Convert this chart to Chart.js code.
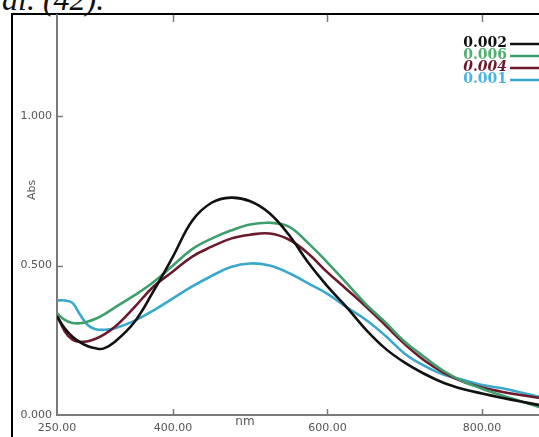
<!DOCTYPE html>
<html>
<head>
<meta charset="utf-8">
<script src="https://cdn.jsdelivr.net/npm/chart.js@4.4.1/dist/chart.umd.min.js"></script>
<style>
  html, body { margin: 0; padding: 0; background: #fff; overflow: hidden; }
  #wrap { position: relative; width: 539px; height: 437px; overflow: hidden; }
  #cite {
    position: absolute; left: 2px; top: -16px;
    font: italic 32px "Liberation Serif", serif; line-height: 30px; color: #111;
  }
  #frame {
    position: absolute; left: 11px; top: 13px; width: 560px; height: 460px;
    border-left: 2px solid #000; border-top: 2px solid #000;
  }
  #spectra { position: absolute; left: 0; top: 0; }
</style>
</head>
<body>
<div id="wrap">
  <div id="cite">al. (42).</div>
  <div id="frame"></div>
  <canvas id="spectra" width="540" height="437"></canvas>
</div>
<script>
// wavelength grid (nm) shared by all four spectra
const wavelengths = [250, 260, 270, 280, 290, 300, 310, 325, 350, 375, 400, 425, 450, 475, 500,
                     525, 550, 575, 600, 625, 650, 675, 700, 725, 750, 775, 800, 825, 850, 875];

const seriesNames = ['0.002', '0.006', '0.004', '0.001'];
const seriesColors = ['#111111', '#3f9f6c', '#6b1a2c', '#3aa8cc'];

const abs002 = [0.330, 0.290, 0.262, 0.243, 0.230, 0.223, 0.222, 0.245, 0.310, 0.415, 0.530, 0.650, 0.710, 0.727, 0.715,
                0.675, 0.603, 0.510, 0.430, 0.360, 0.285, 0.222, 0.175, 0.138, 0.108, 0.087, 0.072, 0.058, 0.045, 0.033];
const abs006 = [0.340, 0.318, 0.308, 0.307, 0.313, 0.322, 0.335, 0.360, 0.400, 0.445, 0.500, 0.555, 0.590, 0.617, 0.637,
                0.643, 0.630, 0.575, 0.510, 0.440, 0.370, 0.310, 0.245, 0.195, 0.148, 0.113, 0.088, 0.066, 0.046, 0.026];
const abs004 = [0.335, 0.280, 0.252, 0.245, 0.247, 0.255, 0.268, 0.295, 0.360, 0.430, 0.480, 0.530, 0.563, 0.590, 0.603,
                0.607, 0.587, 0.540, 0.477, 0.420, 0.362, 0.300, 0.237, 0.183, 0.142, 0.112, 0.092, 0.078, 0.067, 0.057];
const abs001 = [0.383, 0.383, 0.375, 0.335, 0.300, 0.287, 0.285, 0.290, 0.315, 0.350, 0.390, 0.430, 0.465, 0.495, 0.507,
                0.500, 0.475, 0.440, 0.405, 0.360, 0.318, 0.265, 0.205, 0.165, 0.135, 0.118, 0.100, 0.090, 0.075, 0.060];

const xTickValues = [250, 400, 600, 800];
const yTickValues = [0, 0.5, 1.0];

const seriesData = [abs002, abs006, abs004, abs001];
const drawOrder = [0, 1, 2, 3]; // black on top

const axisGrey = '#7a7a7a';
const labelGrey = '#555';
const tickFont = '"DejaVu Sans", Verdana, sans-serif';

// inner tick marks, axis titles and the concentration key
const decorations = {
  id: 'decorations',
  afterDraw(chart) {
    const ctx = chart.ctx;
    const xs = chart.scales.x, ys = chart.scales.y;
    const area = chart.chartArea;
    ctx.save();
    ctx.strokeStyle = axisGrey;
    ctx.lineWidth = 1.5;
    xTickValues.slice(1).forEach(v => {
      const px = Math.round(xs.getPixelForValue(v)) + 0.5;
      ctx.beginPath();
      ctx.moveTo(px, area.bottom); ctx.lineTo(px, area.bottom - 6);
      ctx.moveTo(px, area.top); ctx.lineTo(px, area.top + 7);
      ctx.stroke();
    });
    yTickValues.slice(1).forEach(v => {
      const py = Math.round(ys.getPixelForValue(v)) + 0.5;
      ctx.beginPath();
      ctx.moveTo(area.left, py); ctx.lineTo(area.left + 6, py);
      ctx.stroke();
    });

    // axis titles
    ctx.fillStyle = labelGrey;
    ctx.textAlign = 'center';
    ctx.textBaseline = 'middle';
    ctx.font = '12px ' + tickFont;
    ctx.fillText('nm', 245, 422);
    ctx.save();
    ctx.translate(32, 190);
    ctx.rotate(-Math.PI / 2);
    ctx.font = '11px ' + tickFont;
    ctx.fillText('Abs', 0, 0);
    ctx.restore();

    // key
    ctx.textAlign = 'right';
    ctx.textBaseline = 'middle';
    seriesNames.forEach((name, i) => {
      const y = 43 + i * 12;
      ctx.font = (i === 2 ? 'italic ' : '') + 'bold 14px "DejaVu Serif", serif';
      ctx.fillStyle = i === 3 ? '#4ab4e0' : (i === 1 ? '#4fb070' : seriesColors[i]);
      ctx.fillText(name, 507, y);
      ctx.strokeStyle = seriesColors[i];
      ctx.lineWidth = 2.5;
      ctx.beginPath();
      ctx.moveTo(510, y + 1); ctx.lineTo(540, y + 1);
      ctx.stroke();
    });
    ctx.restore();
  }
};

new Chart(document.getElementById('spectra'), {
  type: 'line',
  data: {
    datasets: seriesNames.map((name, i) => ({
      label: name,
      data: wavelengths.map((w, j) => ({ x: w, y: seriesData[i][j] })),
      borderColor: seriesColors[i],
      borderWidth: 2.6,
      pointRadius: 0,
      tension: 0.4,
      fill: false,
      order: drawOrder[i]
    }))
  },
  options: {
    responsive: false,
    animation: false,
    devicePixelRatio: 1,
    layout: { padding: { top: 15, right: 0, left: 0, bottom: 0 } },
    plugins: { legend: { display: false }, tooltip: { enabled: false } },
    scales: {
      x: {
        type: 'linear',
        min: 250,
        max: 875,
        grid: { display: false, drawTicks: false },
        border: { color: axisGrey, width: 2 },
        afterBuildTicks: scale => { scale.ticks = xTickValues.map(v => ({ value: v })); },
        afterFit: scale => { scale.height = 22; },
        ticks: {
          autoSkip: false,
          maxRotation: 0,
          padding: 7,
          color: labelGrey,
          font: { size: 11, family: tickFont },
          callback: v => v.toFixed(2)
        }
      },
      y: {
        min: 0,
        max: 1.338,
        grid: { display: false, drawTicks: false },
        border: { color: axisGrey, width: 2 },
        afterBuildTicks: scale => { scale.ticks = yTickValues.map(v => ({ value: v })); },
        afterFit: scale => { scale.width = 57; },
        ticks: {
          padding: 5,
          color: labelGrey,
          font: { size: 11, family: tickFont },
          callback: v => v.toFixed(3)
        }
      }
    }
  },
  plugins: [decorations]
});
</script>
</body>
</html>
